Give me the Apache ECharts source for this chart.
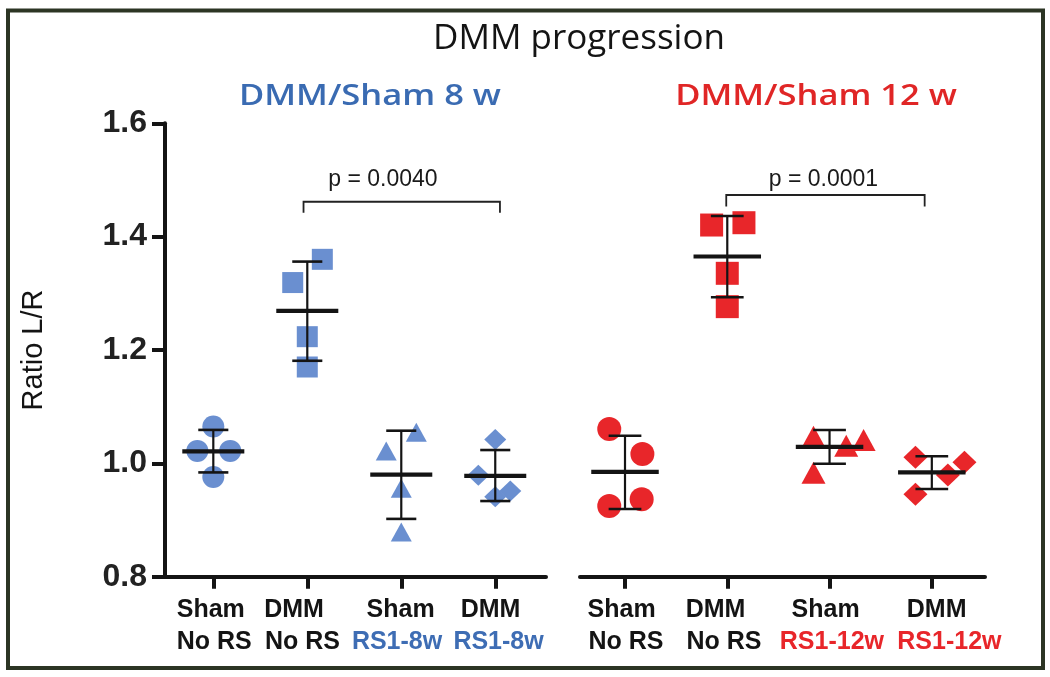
<!DOCTYPE html>
<html>
<head>
<meta charset="utf-8">
<script src="https://cdn.jsdelivr.net/npm/echarts@6/dist/echarts.min.js"></script>
<style>
  html, body { margin: 0; padding: 0; background: #ffffff; }
  #chart { width: 1050px; height: 677px; }
</style>
</head>
<body>
<div id="chart"></div>
<script>
// ---------- data ----------
const catTop = ['Sham', 'DMM', 'Sham', 'DMM'];
const catBottom8 = ['No RS', 'No RS', 'RS1-8w', 'RS1-8w'];
const catBottom12 = ['No RS', 'No RS', 'RS1-12w', 'RS1-12w'];
const catPositions = [1, 2, 3, 4];
const yTicks = [0.8, 1.0, 1.2, 1.4, 1.6];

// 8 weeks (blue), individual animals and horizontal jitter (category units)
const shamNoRS8 = [1.065, 1.022, 1.022, 0.976];
const shamNoRS8Jit = [0, -0.17, 0.18, 0];
const dmmNoRS8 = [1.360, 1.319, 1.2235, 1.170];
const dmmNoRS8Jit = [0.16, -0.155, 0, 0];
const shamRS8 = [1.055, 1.022, 0.956, 0.879];
const shamRS8Jit = [0.16, -0.16, 0, 0];
const dmmRS8 = [1.042, 0.979, 0.951, 0.941];
const dmmRS8Jit = [0, -0.18, 0.16, 0];
const mean8 = [1.021, 1.269, 0.980, 0.978];
const sdLow8 = [0.984, 1.181, 0.902, 0.9335];
const sdHigh8 = [1.059, 1.356, 1.0576, 1.0235];

// 12 weeks (red)
const shamNoRS12 = [1.0605, 1.0165, 0.9365, 0.9247];
const shamNoRS12Jit = [-0.154, 0.17, 0.163, -0.154];
const dmmNoRS12 = [1.4205, 1.4246, 1.3353, 1.2765];
const dmmNoRS12Jit = [-0.153, 0.163, 0, 0];
const shamRS12 = [1.047, 1.031, 1.041, 0.9835];
const shamRS12Jit = [-0.157, 0.163, 0.333, -0.157];
const dmmRS12 = [1.0106, 1.0018, 0.9794, 0.9453];
const dmmRS12Jit = [-0.16, 0.319, 0.157, -0.16];
const mean12 = [0.985, 1.365, 1.029, 0.984];
const sdLow12 = [0.9194, 1.293, 0.9993, 0.9547];
const sdHigh12 = [1.0487, 1.4364, 1.0588, 1.0124];

// significance brackets: [xFrom, xTo, yTop, yLegEnd, textX, textY] and their texts
const bracket8 = [[1.96, 4.05, 1.4616, 1.442, 2.805, 1.50]];
const bracket8Text = ['p = 0.0040'];
const bracket12 = [[1.99, 3.93, 1.4735, 1.453, 2.94, 1.50]];
const bracket12Text = ['p = 0.0001'];

// ---------- layout / style ----------
// label anchor positions (category units) as set in the original figure
const LBL_TOP8 = [0.973, 1.859, 2.993, 3.95];
const LBL_BOT8 = [1.01, 1.949, 2.955, 4.035];
const LBL_TOP12 = [0.967, 1.885, 2.962, 4.047];
const LBL_BOT12 = [1.01, 1.968, 3.023, 4.172];

const BLUE = '#6a8fd0';
const BLUE_TXT = '#3e6db4';
const RED = '#e8262a';
const INK = '#141414';
const MEAN_HW = 0.33, CAP_HW = 0.16;
const FONT = '"Liberation Sans", Arial, sans-serif';

const chart = echarts.init(document.getElementById('chart'), null, { renderer: 'canvas' });

function pts(vals, jit, cx) { return vals.map((v, i) => [cx + jit[i], v]); }
function errRows(m, lo, hi) { return m.map((v, i) => [catPositions[i], v, lo[i], hi[i]]); }

function errItem(params, api) {
  const x = api.value(0), m = api.value(1), lo = api.value(2), hi = api.value(3);
  const a = api.coord([x - MEAN_HW, m]), b = api.coord([x + MEAN_HW, m]);
  const pl = api.coord([x, lo]), ph = api.coord([x, hi]);
  const l1 = api.coord([x - CAP_HW, lo]), l2 = api.coord([x + CAP_HW, lo]);
  const h1 = api.coord([x - CAP_HW, hi]), h2 = api.coord([x + CAP_HW, hi]);
  return {
    type: 'group',
    children: [
      { type: 'line', shape: { x1: pl[0], y1: pl[1], x2: ph[0], y2: ph[1] }, style: { stroke: INK, lineWidth: 2.2 } },
      { type: 'line', shape: { x1: l1[0], y1: l1[1], x2: l2[0], y2: l2[1] }, style: { stroke: INK, lineWidth: 2.6 } },
      { type: 'line', shape: { x1: h1[0], y1: h1[1], x2: h2[0], y2: h2[1] }, style: { stroke: INK, lineWidth: 2.6 } },
      { type: 'line', shape: { x1: a[0], y1: a[1], x2: b[0], y2: b[1] }, style: { stroke: INK, lineWidth: 4.2 } }
    ]
  };
}

function makeBracketItem(texts) {
  return function (params, api) {
    const x1 = api.value(0), x2 = api.value(1), yt = api.value(2), yb = api.value(3);
    const tx = api.value(4), ty = api.value(5);
    const p1 = api.coord([x1, yb]), p2 = api.coord([x1, yt]), p3 = api.coord([x2, yt]), p4 = api.coord([x2, yb]);
    const pt = api.coord([tx, ty]);
    return {
      type: 'group',
      children: [
        { type: 'polyline', shape: { points: [p1, p2, p3, p4] }, style: { stroke: '#222', lineWidth: 1.8, fill: null } },
        { type: 'text', x: pt[0], y: pt[1], style: { text: texts[params.dataIndex], fill: '#1a1a1a', font: '23px ' + FONT, align: 'center', verticalAlign: 'middle' } }
      ]
    };
  };
}

const labelFont = { fontFamily: FONT, fontWeight: 'bold', fontSize: 25, lineHeight: 31.5 };

// main axis: line, ticks, first label line
function xAxisMain(gridIndex, min, max, lblPos) {
  return {
    type: 'value', gridIndex, min, max, position: 'bottom',
    axisLine: { show: true, onZero: false, lineStyle: { color: INK, width: 4 } },
    axisTick: { show: true, customValues: catPositions, length: 12, lineStyle: { color: INK, width: 4 } },
    axisLabel: Object.assign({
      customValues: lblPos, margin: 18, color: INK,
      formatter: v => catTop[Math.round(v) - 1]
    }, labelFont),
    splitLine: { show: false }
  };
}
// companion axis: second label line only
function xAxisSub(gridIndex, min, max, lblPos, bottoms, color) {
  return {
    type: 'value', gridIndex, min, max, position: 'bottom',
    axisLine: { show: false }, axisTick: { show: false },
    axisLabel: {
      customValues: lblPos, margin: 49.5,
      formatter: v => { const i = Math.round(v) - 1; return '{' + (i >= 2 ? 'c' : 'a') + '|' + bottoms[i] + '}'; },
      rich: {
        a: Object.assign({ color: INK }, labelFont),
        c: Object.assign({ color: color }, labelFont)
      }
    },
    splitLine: { show: false }
  };
}

const series = [];
const sym8 = [
  [shamNoRS8, shamNoRS8Jit, 'circle', 22],
  [dmmNoRS8, dmmNoRS8Jit, 'rect', 21],
  [shamRS8, shamRS8Jit, 'triangle', [21, 19]],
  [dmmRS8, dmmRS8Jit, 'diamond', [22, 21]]
];
const sym12 = [
  [shamNoRS12, shamNoRS12Jit, 'circle', 24],
  [dmmNoRS12, dmmNoRS12Jit, 'rect', 23],
  [shamRS12, shamRS12Jit, 'triangle', [24, 22]],
  [dmmRS12, dmmRS12Jit, 'diamond', [24, 23]]
];
sym8.forEach((s, i) => series.push({
  type: 'scatter', xAxisIndex: 0, yAxisIndex: 0, symbol: s[2], symbolSize: s[3],
  itemStyle: { color: BLUE, opacity: 1 }, data: pts(s[0], s[1], catPositions[i]), z: 2, silent: true
}));
sym12.forEach((s, i) => series.push({
  type: 'scatter', xAxisIndex: 1, yAxisIndex: 1, symbol: s[2], symbolSize: s[3],
  itemStyle: { color: RED, opacity: 1 }, data: pts(s[0], s[1], catPositions[i]), z: 2, silent: true
}));
series.push({ type: 'custom', xAxisIndex: 0, yAxisIndex: 0, renderItem: errItem, data: errRows(mean8, sdLow8, sdHigh8), encode: { x: 0, y: [1, 2, 3] }, z: 5, silent: true });
series.push({ type: 'custom', xAxisIndex: 1, yAxisIndex: 1, renderItem: errItem, data: errRows(mean12, sdLow12, sdHigh12), encode: { x: 0, y: [1, 2, 3] }, z: 5, silent: true });
series.push({ type: 'custom', xAxisIndex: 0, yAxisIndex: 0, renderItem: makeBracketItem(bracket8Text), data: bracket8, encode: { x: [0, 1], y: [2, 3] }, z: 5, silent: true });
series.push({ type: 'custom', xAxisIndex: 1, yAxisIndex: 1, renderItem: makeBracketItem(bracket12Text), data: bracket12, encode: { x: [0, 1], y: [2, 3] }, z: 5, silent: true });

const X8 = [0.486, 4.54], X12 = [0.56, 4.52];
const option = {
  backgroundColor: '#ffffff',
  animation: false,
  grid: [
    { left: 165, top: 123.3, width: 381, height: 453.4 },
    { left: 580, top: 123.3, width: 405, height: 453.4 }
  ],
  xAxis: [
    xAxisMain(0, X8[0], X8[1], LBL_TOP8),
    xAxisMain(1, X12[0], X12[1], LBL_TOP12),
    xAxisSub(0, X8[0], X8[1], LBL_BOT8, catBottom8, BLUE_TXT),
    xAxisSub(1, X12[0], X12[1], LBL_BOT12, catBottom12, RED)
  ],
  yAxis: [
    {
      type: 'value', gridIndex: 0, min: yTicks[0], max: yTicks[yTicks.length - 1], interval: 0.2,
      axisLine: { show: true, lineStyle: { color: INK, width: 4 } },
      axisTick: { show: true, length: 13, lineStyle: { color: INK, width: 4 } },
      axisLabel: { margin: 18, formatter: v => v.toFixed(1), fontFamily: FONT, fontWeight: 'bold', fontSize: 32, color: '#222' },
      splitLine: { show: false },
      name: 'Ratio L/R', nameLocation: 'middle', nameRotate: 90, nameGap: 131, nameMoveOverlap: false,
      nameTextStyle: { fontFamily: FONT, fontSize: 29, color: INK, verticalAlign: 'middle' }
    },
    { type: 'value', gridIndex: 1, min: yTicks[0], max: yTicks[yTicks.length - 1], interval: 0.2, show: false, splitLine: { show: false } }
  ],
  graphic: [
    { type: 'rect', shape: { x: 8, y: 10.5, width: 1035, height: 657.5 }, style: { fill: null, stroke: '#2c3524', lineWidth: 4 }, z: 0, silent: true },
    { type: 'text', x: 579, y: 39, style: { text: 'DMM progression', font: '35px "Open Sans", sans-serif', fill: '#141414', align: 'center', verticalAlign: 'middle' }, silent: true },
    { type: 'text', x: 370, y: 97, scaleX: 1.19, style: { text: 'DMM/Sham 8 w', font: '600 29px "Open Sans", sans-serif', fill: '#3a6bb2', align: 'center', verticalAlign: 'middle' }, silent: true },
    { type: 'text', x: 816, y: 97, scaleX: 1.19, style: { text: 'DMM/Sham 12 w', font: '600 29px "Open Sans", sans-serif', fill: '#e02626', align: 'center', verticalAlign: 'middle' }, silent: true }
  ],
  series
};
chart.setOption(option);
</script>
</body>
</html>
